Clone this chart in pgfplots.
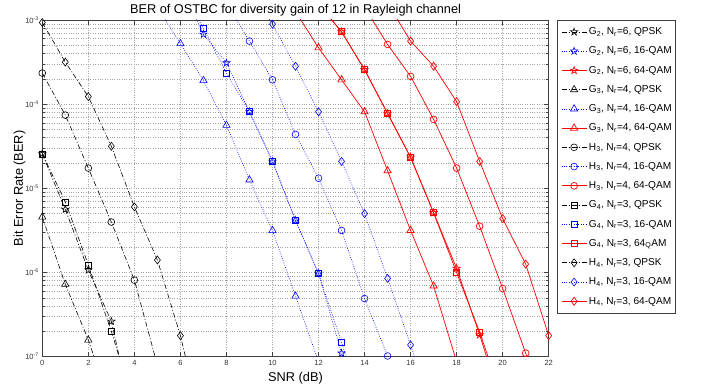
\documentclass[border=0pt]{standalone}
\usepackage{pgfplots}
\pgfplotsset{compat=1.18}
\usepackage{fontspec}
\setmainfont{Liberation Sans}
\usetikzlibrary{plotmarks}

\pgfdeclareplotmark{pentagram}{%
 \pgfpathmoveto{\pgfpointpolar{90}{\pgfplotmarksize}}%
 \pgfpathlineto{\pgfpointpolar{126}{0.4\pgfplotmarksize}}%
 \pgfpathlineto{\pgfpointpolar{162}{\pgfplotmarksize}}%
 \pgfpathlineto{\pgfpointpolar{198}{0.4\pgfplotmarksize}}%
 \pgfpathlineto{\pgfpointpolar{234}{\pgfplotmarksize}}%
 \pgfpathlineto{\pgfpointpolar{270}{0.4\pgfplotmarksize}}%
 \pgfpathlineto{\pgfpointpolar{306}{\pgfplotmarksize}}%
 \pgfpathlineto{\pgfpointpolar{342}{0.4\pgfplotmarksize}}%
 \pgfpathlineto{\pgfpointpolar{18}{\pgfplotmarksize}}%
 \pgfpathlineto{\pgfpointpolar{54}{0.4\pgfplotmarksize}}%
 \pgfpathclose
 \pgfusepathqstroke
}

\pgfplotsset{
 qpsk/.style={black, line width=0.6pt, dash pattern=on 5pt off 2pt on 1pt off 2pt, mark options={solid}},
 qam16/.style={blue, line width=0.6pt, dash pattern=on 0.8pt off 1.6pt, mark options={solid}},
 qam64/.style={red, line width=0.7pt, solid, mark options={solid}},
 mstar/.style={mark=pentagram, mark size=3.8pt},
 mtri/.style={mark=triangle, mark size=4.2pt},
 mcirc/.style={mark=o, mark size=3.4pt},
 msq/.style={mark=square, mark size=3pt},
 mdia/.style={mark=diamond, mark size=4pt},
}

\begin{document}
\begin{tikzpicture}
\useasboundingbox (-42.3pt,-30.3pt) rectangle (659.7pt,356.7pt);
\begin{axis}[
 at={(0,0)}, anchor=south west,
 scale only axis, width=506.4pt, height=336.7pt,
 ymode=log, xmin=0, xmax=22, ymin=1e-7, ymax=1e-3,
 xtick={0,2,...,22},
 ytick={1e-7,1e-6,1e-5,1e-4,1e-3},
 yticklabels={10\textsuperscript{-7},10\textsuperscript{-6},10\textsuperscript{-5},10\textsuperscript{-4},10\textsuperscript{-3}},
 /pgf/number format/assume math mode=true,
 ticklabel style={font=\fontsize{7.5}{8}\selectfont, text=black!80},
 xmajorgrids, ymajorgrids, yminorgrids,
 major grid style={gray!70, dotted, line width=0.5pt},
 minor grid style={gray!70, dotted, line width=0.5pt},
 axis line style={black!75, line width=0.5pt},
 every tick/.style={black!75, line width=0.5pt},
 major tick length=5pt, minor tick length=3pt,
 tick align=inside,
 every axis title shift=0pt,
 title={BER of OSTBC for diversity gain of 12 in Rayleigh channel},
 title style={font=\fontsize{12.75}{14}\selectfont, at={(axis description cs:0.5,1)}, anchor=base, yshift=6pt},
 xlabel={SNR (dB)},
 xlabel style={font=\fontsize{12.75}{14}\selectfont, at={(axis description cs:0.5,0)}, anchor=base, yshift=-24.3pt},
 ylabel={Bit Error Rate (BER)},
 ylabel style={font=\fontsize{12.75}{14}\selectfont, at={([xshift=-19.3pt]axis description cs:0,0.5)}, anchor=base},
 legend image code/.code={\draw[mark repeat=2,mark phase=2,#1] plot coordinates {(0pt,0pt) (12.5pt,0pt) (25pt,0pt)};},
 legend cell align=left,
 legend style={at={(1.0164,1)}, anchor=north west, draw=black!75, fill=white, line width=0.5pt,
   font=\fontsize{10.1}{12}\selectfont, row sep=8.74pt, inner xsep=4pt, inner ysep=6.4pt,
   nodes={inner sep=0pt, text height=8pt, text depth=2.5pt},
   /tikz/every odd column/.append style={column sep=2pt}},
]
% G2
\addplot[qpsk, mstar] coordinates {(0,2.57e-5) (1,5.62e-6) (2,1.07e-6) (3,2.63e-7) (4,1.6e-8)};
\addlegendentry{G\textsubscript{2}, N\textsubscript{r}=6, QPSK}
\addplot[qam16, mstar] coordinates {(6,2.5e-3) (7,6.76e-4) (8,3.09e-4) (9,8.13e-5) (10,2.09e-5) (11,4.17e-6) (12,9.77e-7) (13,1.10e-7) (14,1.26e-8)};
\addlegendentry{G\textsubscript{2}, N\textsubscript{r}=6, 16-QAM}
\addplot[qam64, mstar] coordinates {(12,1.55e-3) (13,7.24e-4) (14,2.57e-4) (15,7.76e-5) (16,2.34e-5) (17,5.13e-6) (18,1.12e-6) (19,1.82e-7) (20,2.5e-8)};
\addlegendentry{G\textsubscript{2}, N\textsubscript{r}=6, 64-QAM}
% G3
\addplot[qpsk, mtri] coordinates {(0,4.57e-6) (1,7.24e-7) (2,1.58e-7) (3,2.5e-8)};
\addlegendentry{G\textsubscript{3}, N\textsubscript{r}=4, QPSK}
\addplot[qam16, mtri] coordinates {(5,1.41e-3) (6,5.25e-4) (7,1.91e-4) (8,5.62e-5) (9,1.26e-5) (10,3.16e-6) (11,5.25e-7) (12,8.7e-8)};
\addlegendentry{G\textsubscript{3}, N\textsubscript{r}=4, 16-QAM}
\addplot[qam64, mtri] coordinates {(11,1.26e-3) (12,4.68e-4) (13,1.95e-4) (14,8.13e-5) (15,1.62e-5) (16,3.16e-6) (17,6.92e-7) (18,8.7e-8)};
\addlegendentry{G\textsubscript{3}, N\textsubscript{r}=4, 64-QAM}
% H3
\addplot[qpsk, mcirc] coordinates {(0,2.34e-4) (1,7.41e-5) (2,1.74e-5) (3,3.98e-6) (4,8.13e-7) (5,7.9e-8)};
\addlegendentry{H\textsubscript{3}, N\textsubscript{r}=4, QPSK}
\addplot[qam16, mcirc] coordinates {(8,1.58e-3) (9,5.62e-4) (10,1.95e-4) (11,4.37e-5) (12,1.32e-5) (13,3.16e-6) (14,4.9e-7) (15,1.02e-7) (16,1.6e-8)};
\addlegendentry{H\textsubscript{3}, N\textsubscript{r}=4, 16-QAM}
\addplot[qam64, mcirc] coordinates {(14,1.41e-3) (15,5.13e-4) (16,2.14e-4) (17,6.61e-5) (18,1.74e-5) (19,3.55e-6) (20,6.46e-7) (21,1.10e-7) (22,1.6e-8)};
\addlegendentry{H\textsubscript{3}, N\textsubscript{r}=4, 64-QAM}
% G4
\addplot[qpsk, msq] coordinates {(0,2.57e-5) (1,6.92e-6) (2,1.23e-6) (3,2.0e-7) (4,2.5e-8)};
\addlegendentry{G\textsubscript{4}, N\textsubscript{r}=3, QPSK}
\addplot[qam16, msq] coordinates {(6,2.5e-3) (7,7.94e-4) (8,2.34e-4) (9,8.13e-5) (10,2.09e-5) (11,4.17e-6) (12,9.77e-7) (13,1.48e-7) (14,2.0e-8)};
\addlegendentry{G\textsubscript{4}, N\textsubscript{r}=3, 16-QAM}
\addplot[qam64, msq] coordinates {(12,1.55e-3) (13,7.24e-4) (14,2.57e-4) (15,7.76e-5) (16,2.34e-5) (17,5.13e-6) (18,1.0e-6) (19,1.95e-7) (20,3.16e-8)};
\addlegendentry{G\textsubscript{4}, N\textsubscript{r}=3, 64\textsubscript{Q}AM}
% H4
\addplot[qpsk, mdia] coordinates {(0,9.33e-4) (1,3.16e-4) (2,1.23e-4) (3,3.16e-5) (4,6.03e-6) (5,1.41e-6) (6,1.78e-7) (7,1.26e-8)};
\addlegendentry{H\textsubscript{4}, N\textsubscript{r}=3, QPSK}
\addplot[qam16, mdia] coordinates {(9,2.5e-3) (10,8.91e-4) (11,2.82e-4) (12,8.13e-5) (13,2.09e-5) (14,5.01e-6) (15,8.51e-7) (16,1.38e-7) (17,2.0e-8)};
\addlegendentry{H\textsubscript{4}, N\textsubscript{r}=3, 16-QAM}
\addplot[qam64, mdia] coordinates {(15,1.58e-3) (16,5.62e-4) (17,2.82e-4) (18,1.07e-4) (19,2.09e-5) (20,4.37e-6) (21,1.26e-6) (22,1.78e-7)};
\addlegendentry{H\textsubscript{4}, N\textsubscript{r}=3, 64-QAM}
\end{axis}
\end{tikzpicture}
\end{document}
